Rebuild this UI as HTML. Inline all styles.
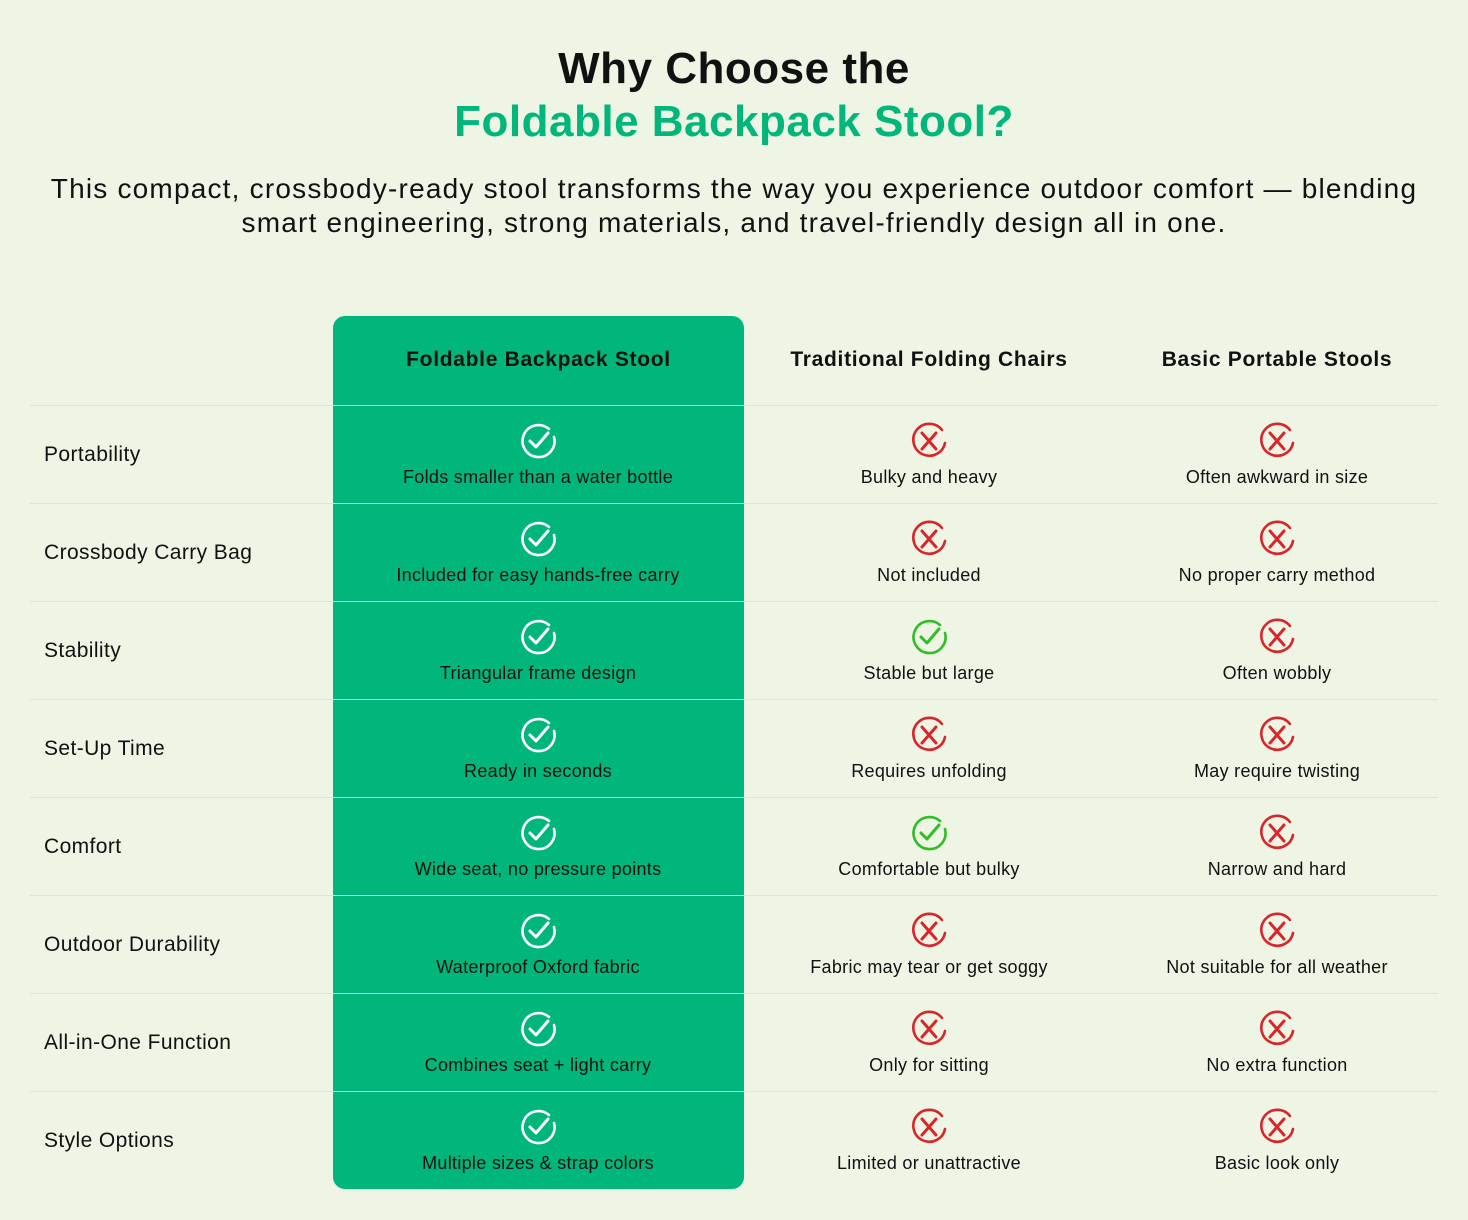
<!DOCTYPE html>
<html><head><style>
body{margin:0;width:1468px;height:1220px;background:#eef5e4;font-family:"Liberation Sans",sans-serif;color:#111;position:relative;overflow:hidden}
.t{position:absolute;left:0;width:1468px;text-align:center;white-space:nowrap}
.h{font-weight:bold;font-size:44px;letter-spacing:0.5px}
.sub{font-size:28px;letter-spacing:1.2px}
.g{position:absolute;left:333px;top:316px;width:411px;height:873px;background:#00b67a;border-radius:12px}
.line{position:absolute;height:1px}
.cell{position:absolute;text-align:center;white-space:nowrap;font-size:18px;letter-spacing:0.3px}
.lab{position:absolute;left:44px;font-size:21px;letter-spacing:0.4px}
.hd{position:absolute;top:348px;font-weight:bold;font-size:21px;letter-spacing:0.7px;text-align:center;white-space:nowrap}
</style></head><body>
<div class="t h" style="top:44px">Why Choose the</div>
<div class="t h" style="top:97px;color:#00b67a">Foldable Backpack Stool?</div>
<div class="t sub" style="top:173px">This compact, crossbody-ready stool transforms the way you experience outdoor comfort — blending</div>
<div class="t sub" style="top:207px">smart engineering, strong materials, and travel-friendly design all in one.</div>
<div class="g"></div>
<div class="hd" style="left:333px;width:411px">Foldable Backpack Stool</div>
<div class="hd" style="left:729px;width:400px">Traditional Folding Chairs</div>
<div class="hd" style="left:1077px;width:400px">Basic Portable Stools</div>
<div id="rows"></div>
<script>
const rows=[["Portability","Folds smaller than a water bottle","Bulky and heavy",0,"Often awkward in size"],
["Crossbody Carry Bag","Included for easy hands-free carry","Not included",0,"No proper carry method"],
["Stability","Triangular frame design","Stable but large",1,"Often wobbly"],
["Set-Up Time","Ready in seconds","Requires unfolding",0,"May require twisting"],
["Comfort","Wide seat, no pressure points","Comfortable but bulky",1,"Narrow and hard"],
["Outdoor Durability","Waterproof Oxford fabric","Fabric may tear or get soggy",0,"Not suitable for all weather"],
["All-in-One Function","Combines seat + light carry","Only for sitting",0,"No extra function"],
["Style Options","Multiple sizes & strap colors","Limited or unattractive",0,"Basic look only"]];
function chk(c){return `<svg width="40" height="40" viewBox="0 0 40 40"><path d="M31 8 A16 16 0 1 0 36 16" fill="none" stroke="${c}" stroke-width="2.6" stroke-linecap="round"/><path d="M12 20 L18 26 L30 12" fill="none" stroke="${c}" stroke-width="3" stroke-linecap="round" stroke-linejoin="round"/></svg>`}
function x(){return `<svg width="40" height="40" viewBox="0 0 40 40"><path d="M33 9 A16 16 0 1 0 36 22" fill="none" stroke="#d9262b" stroke-width="2.6" stroke-linecap="round"/><path d="M13 12 L27 28 M27 12 L13 28" stroke="#d9262b" stroke-width="3" stroke-linecap="round"/></svg>`}
let h="";
rows.forEach((r,i)=>{const y=405+i*98;
h+=`<div class="line" style="left:30px;width:303px;top:${y}px;background:#dde3e0"></div>`;
h+=`<div class="line" style="left:333px;width:411px;top:${y}px;background:#b9ecd6"></div>`;
h+=`<div class="line" style="left:744px;width:694px;top:${y}px;background:#dde3e0"></div>`;
h+=`<div class="lab" style="top:${y+38}px">${r[0]}</div>`;
const cols=[[538,chk("#fff"),r[1]],[929,r[3]?chk("#2fbf22"):x(),r[2]],[1277,x(),r[4]]];
cols.forEach(c=>{h+=`<div class="cell" style="left:${c[0]-200}px;width:400px;top:${y+16}px">${c[1]}</div>`;
h+=`<div class="cell" style="left:${c[0]-200}px;width:400px;top:${y+62}px">${c[2].replace('&','&amp;')}</div>`;});
});
document.getElementById("rows").innerHTML=h;
</script>
</body></html>
